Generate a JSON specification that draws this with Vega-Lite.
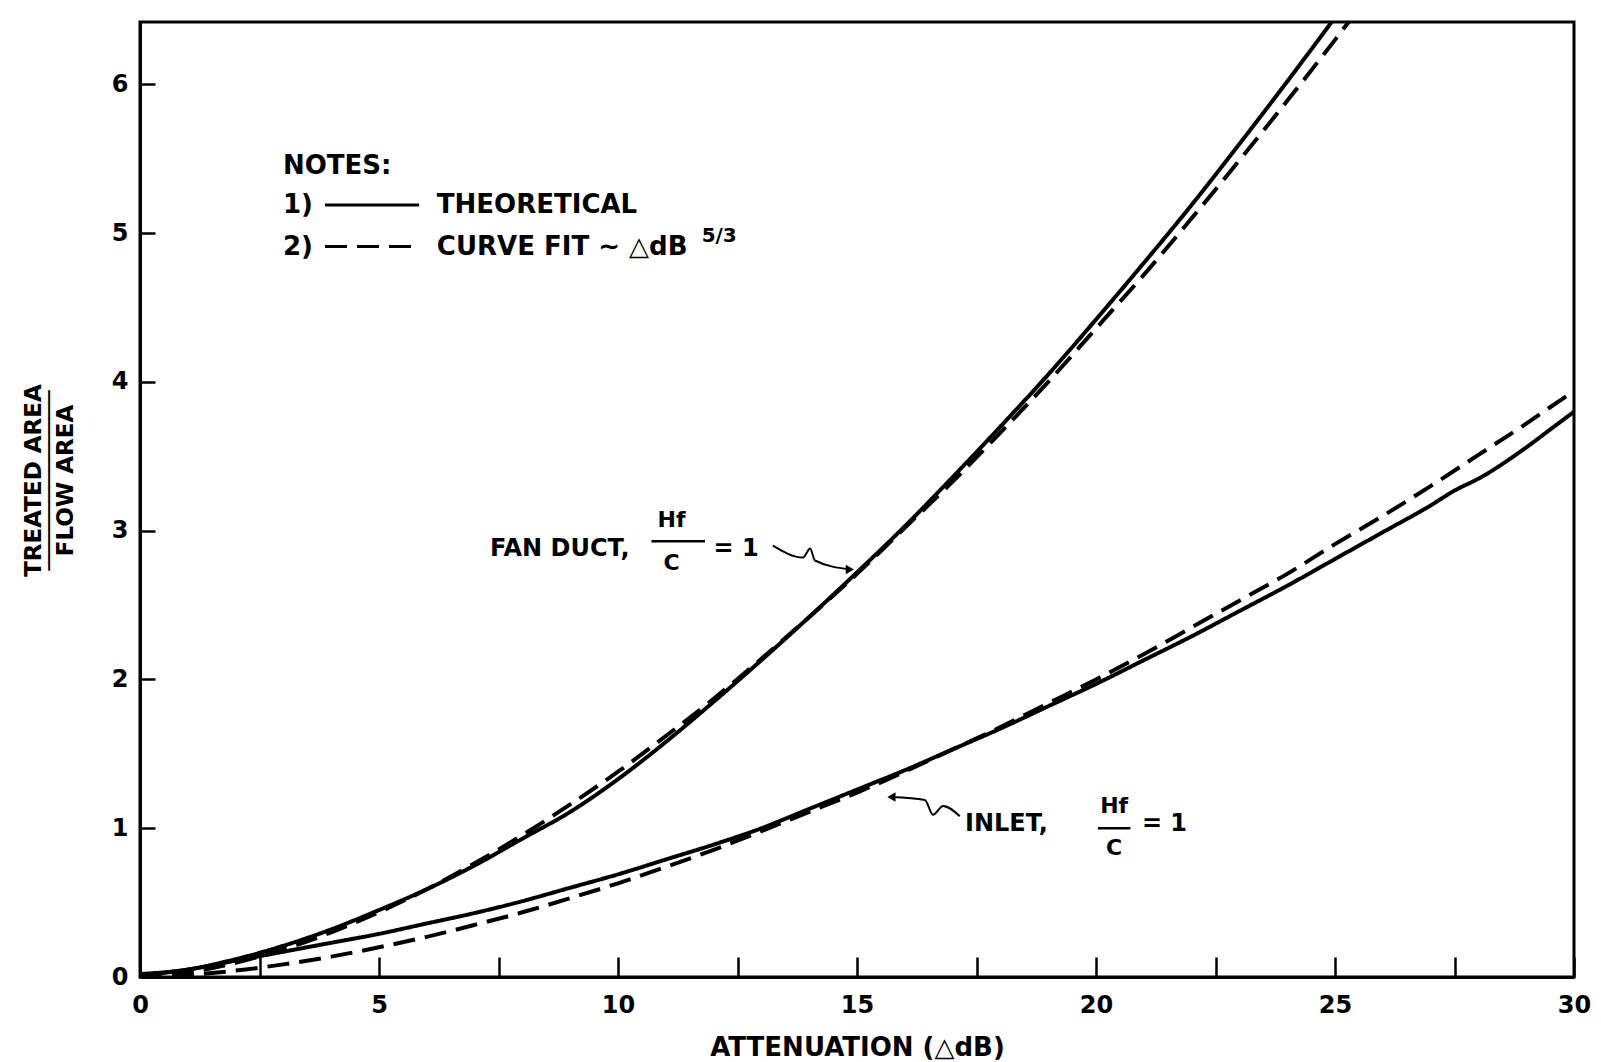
{
  "$schema": "https://vega.github.io/schema/vega-lite/v6.json",
  "width": 1434,
  "height": 955,
  "autosize": {"type": "none"},
  "padding": {"left": 140, "top": 22, "right": 27, "bottom": 85},
  "background": "white",
  "config": {
    "view": {"stroke": "black", "strokeWidth": 3},
    "font": "DejaVu Sans",
    "axis": {
      "domainColor": "black", "domainWidth": 3, "tickColor": "black", "tickWidth": 2.5,
      "grid": false, "labelColor": "black", "titleColor": "black",
      "labelFont": "DejaVu Sans", "titleFont": "DejaVu Sans",
      "labelFontWeight": "bold", "titleFontWeight": "bold",
      "labelOverlap": false, "labelFlush": false
    }
  },
  "datasets": {
    "curves": [
      {"curve": "Fan duct", "kind": "Theoretical", "x": 0, "y": 0.02},
      {"curve": "Fan duct", "kind": "Theoretical", "x": 1, "y": 0.05},
      {"curve": "Fan duct", "kind": "Theoretical", "x": 2, "y": 0.12},
      {"curve": "Fan duct", "kind": "Theoretical", "x": 3, "y": 0.21},
      {"curve": "Fan duct", "kind": "Theoretical", "x": 4, "y": 0.32},
      {"curve": "Fan duct", "kind": "Theoretical", "x": 5, "y": 0.45},
      {"curve": "Fan duct", "kind": "Theoretical", "x": 6, "y": 0.59},
      {"curve": "Fan duct", "kind": "Theoretical", "x": 7, "y": 0.75},
      {"curve": "Fan duct", "kind": "Theoretical", "x": 8, "y": 0.93},
      {"curve": "Fan duct", "kind": "Theoretical", "x": 9, "y": 1.11},
      {"curve": "Fan duct", "kind": "Theoretical", "x": 10, "y": 1.33},
      {"curve": "Fan duct", "kind": "Theoretical", "x": 11, "y": 1.58},
      {"curve": "Fan duct", "kind": "Theoretical", "x": 12, "y": 1.85},
      {"curve": "Fan duct", "kind": "Theoretical", "x": 13, "y": 2.13},
      {"curve": "Fan duct", "kind": "Theoretical", "x": 14, "y": 2.42},
      {"curve": "Fan duct", "kind": "Theoretical", "x": 15, "y": 2.72},
      {"curve": "Fan duct", "kind": "Theoretical", "x": 16, "y": 3.03},
      {"curve": "Fan duct", "kind": "Theoretical", "x": 17, "y": 3.36},
      {"curve": "Fan duct", "kind": "Theoretical", "x": 18, "y": 3.7},
      {"curve": "Fan duct", "kind": "Theoretical", "x": 19, "y": 4.05},
      {"curve": "Fan duct", "kind": "Theoretical", "x": 20, "y": 4.42},
      {"curve": "Fan duct", "kind": "Theoretical", "x": 21, "y": 4.8},
      {"curve": "Fan duct", "kind": "Theoretical", "x": 22, "y": 5.19},
      {"curve": "Fan duct", "kind": "Theoretical", "x": 23, "y": 5.6},
      {"curve": "Fan duct", "kind": "Theoretical", "x": 24, "y": 6.02},
      {"curve": "Fan duct", "kind": "Theoretical", "x": 25, "y": 6.45},
      {"curve": "Fan duct", "kind": "Curve fit", "x": 0, "y": 0},
      {"curve": "Fan duct", "kind": "Curve fit", "x": 1, "y": 0.03},
      {"curve": "Fan duct", "kind": "Curve fit", "x": 2, "y": 0.095},
      {"curve": "Fan duct", "kind": "Curve fit", "x": 3, "y": 0.186},
      {"curve": "Fan duct", "kind": "Curve fit", "x": 4, "y": 0.3},
      {"curve": "Fan duct", "kind": "Curve fit", "x": 5, "y": 0.436},
      {"curve": "Fan duct", "kind": "Curve fit", "x": 6, "y": 0.59},
      {"curve": "Fan duct", "kind": "Curve fit", "x": 7, "y": 0.764},
      {"curve": "Fan duct", "kind": "Curve fit", "x": 8, "y": 0.954},
      {"curve": "Fan duct", "kind": "Curve fit", "x": 9, "y": 1.16},
      {"curve": "Fan duct", "kind": "Curve fit", "x": 10, "y": 1.38},
      {"curve": "Fan duct", "kind": "Curve fit", "x": 11, "y": 1.62},
      {"curve": "Fan duct", "kind": "Curve fit", "x": 12, "y": 1.87},
      {"curve": "Fan duct", "kind": "Curve fit", "x": 13, "y": 2.14},
      {"curve": "Fan duct", "kind": "Curve fit", "x": 14, "y": 2.42},
      {"curve": "Fan duct", "kind": "Curve fit", "x": 15, "y": 2.71},
      {"curve": "Fan duct", "kind": "Curve fit", "x": 16, "y": 3.02},
      {"curve": "Fan duct", "kind": "Curve fit", "x": 17, "y": 3.33},
      {"curve": "Fan duct", "kind": "Curve fit", "x": 18, "y": 3.66},
      {"curve": "Fan duct", "kind": "Curve fit", "x": 19, "y": 4.0},
      {"curve": "Fan duct", "kind": "Curve fit", "x": 20, "y": 4.36},
      {"curve": "Fan duct", "kind": "Curve fit", "x": 21, "y": 4.72},
      {"curve": "Fan duct", "kind": "Curve fit", "x": 22, "y": 5.1},
      {"curve": "Fan duct", "kind": "Curve fit", "x": 23, "y": 5.49},
      {"curve": "Fan duct", "kind": "Curve fit", "x": 24, "y": 5.89},
      {"curve": "Fan duct", "kind": "Curve fit", "x": 25, "y": 6.3},
      {"curve": "Fan duct", "kind": "Curve fit", "x": 25.5, "y": 6.51},
      {"curve": "Inlet", "kind": "Theoretical", "x": 0, "y": 0.01},
      {"curve": "Inlet", "kind": "Theoretical", "x": 1, "y": 0.05},
      {"curve": "Inlet", "kind": "Theoretical", "x": 2, "y": 0.11},
      {"curve": "Inlet", "kind": "Theoretical", "x": 3, "y": 0.17},
      {"curve": "Inlet", "kind": "Theoretical", "x": 4, "y": 0.23},
      {"curve": "Inlet", "kind": "Theoretical", "x": 5, "y": 0.29},
      {"curve": "Inlet", "kind": "Theoretical", "x": 6, "y": 0.36},
      {"curve": "Inlet", "kind": "Theoretical", "x": 7, "y": 0.43},
      {"curve": "Inlet", "kind": "Theoretical", "x": 8, "y": 0.51},
      {"curve": "Inlet", "kind": "Theoretical", "x": 9, "y": 0.6},
      {"curve": "Inlet", "kind": "Theoretical", "x": 10, "y": 0.69},
      {"curve": "Inlet", "kind": "Theoretical", "x": 11, "y": 0.79},
      {"curve": "Inlet", "kind": "Theoretical", "x": 12, "y": 0.89},
      {"curve": "Inlet", "kind": "Theoretical", "x": 13, "y": 1.0},
      {"curve": "Inlet", "kind": "Theoretical", "x": 14, "y": 1.13},
      {"curve": "Inlet", "kind": "Theoretical", "x": 15, "y": 1.26},
      {"curve": "Inlet", "kind": "Theoretical", "x": 16, "y": 1.39},
      {"curve": "Inlet", "kind": "Theoretical", "x": 17, "y": 1.53},
      {"curve": "Inlet", "kind": "Theoretical", "x": 18, "y": 1.67},
      {"curve": "Inlet", "kind": "Theoretical", "x": 19, "y": 1.82},
      {"curve": "Inlet", "kind": "Theoretical", "x": 20, "y": 1.97},
      {"curve": "Inlet", "kind": "Theoretical", "x": 21, "y": 2.13},
      {"curve": "Inlet", "kind": "Theoretical", "x": 22, "y": 2.29},
      {"curve": "Inlet", "kind": "Theoretical", "x": 23, "y": 2.46},
      {"curve": "Inlet", "kind": "Theoretical", "x": 24, "y": 2.63},
      {"curve": "Inlet", "kind": "Theoretical", "x": 25, "y": 2.81},
      {"curve": "Inlet", "kind": "Theoretical", "x": 26, "y": 2.99},
      {"curve": "Inlet", "kind": "Theoretical", "x": 27, "y": 3.17},
      {"curve": "Inlet", "kind": "Theoretical", "x": 27.5, "y": 3.27},
      {"curve": "Inlet", "kind": "Theoretical", "x": 28, "y": 3.35},
      {"curve": "Inlet", "kind": "Theoretical", "x": 29, "y": 3.56},
      {"curve": "Inlet", "kind": "Theoretical", "x": 29.5, "y": 3.68},
      {"curve": "Inlet", "kind": "Theoretical", "x": 30, "y": 3.8},
      {"curve": "Inlet", "kind": "Curve fit", "x": 0, "y": 0},
      {"curve": "Inlet", "kind": "Curve fit", "x": 1, "y": 0.014},
      {"curve": "Inlet", "kind": "Curve fit", "x": 2, "y": 0.043},
      {"curve": "Inlet", "kind": "Curve fit", "x": 3, "y": 0.085},
      {"curve": "Inlet", "kind": "Curve fit", "x": 4, "y": 0.137},
      {"curve": "Inlet", "kind": "Curve fit", "x": 5, "y": 0.2},
      {"curve": "Inlet", "kind": "Curve fit", "x": 6, "y": 0.27},
      {"curve": "Inlet", "kind": "Curve fit", "x": 7, "y": 0.35},
      {"curve": "Inlet", "kind": "Curve fit", "x": 8, "y": 0.435},
      {"curve": "Inlet", "kind": "Curve fit", "x": 9, "y": 0.53},
      {"curve": "Inlet", "kind": "Curve fit", "x": 10, "y": 0.63},
      {"curve": "Inlet", "kind": "Curve fit", "x": 11, "y": 0.74},
      {"curve": "Inlet", "kind": "Curve fit", "x": 12, "y": 0.855},
      {"curve": "Inlet", "kind": "Curve fit", "x": 13, "y": 0.98},
      {"curve": "Inlet", "kind": "Curve fit", "x": 14, "y": 1.11},
      {"curve": "Inlet", "kind": "Curve fit", "x": 15, "y": 1.24},
      {"curve": "Inlet", "kind": "Curve fit", "x": 16, "y": 1.38},
      {"curve": "Inlet", "kind": "Curve fit", "x": 17, "y": 1.53},
      {"curve": "Inlet", "kind": "Curve fit", "x": 18, "y": 1.68},
      {"curve": "Inlet", "kind": "Curve fit", "x": 19, "y": 1.84},
      {"curve": "Inlet", "kind": "Curve fit", "x": 20, "y": 2.0},
      {"curve": "Inlet", "kind": "Curve fit", "x": 21, "y": 2.17},
      {"curve": "Inlet", "kind": "Curve fit", "x": 22, "y": 2.35},
      {"curve": "Inlet", "kind": "Curve fit", "x": 23, "y": 2.53},
      {"curve": "Inlet", "kind": "Curve fit", "x": 24, "y": 2.71},
      {"curve": "Inlet", "kind": "Curve fit", "x": 25, "y": 2.91},
      {"curve": "Inlet", "kind": "Curve fit", "x": 26, "y": 3.1},
      {"curve": "Inlet", "kind": "Curve fit", "x": 27, "y": 3.3},
      {"curve": "Inlet", "kind": "Curve fit", "x": 28, "y": 3.51},
      {"curve": "Inlet", "kind": "Curve fit", "x": 29, "y": 3.72},
      {"curve": "Inlet", "kind": "Curve fit", "x": 29.5, "y": 3.83},
      {"curve": "Inlet", "kind": "Curve fit", "x": 30, "y": 3.94}
    ],
    "keylines": [
      {"kind": "Theoretical", "x": 3.87, "x2": 5.84, "y": 5.19},
      {"kind": "Curve fit", "x": 3.87, "x2": 5.84, "y": 4.91}
    ],
    "bars": [
      {"label": "Fan duct", "x": 10.7, "x2": 11.82, "y": 2.93},
      {"label": "Inlet", "x": 20.04, "x2": 20.72, "y": 1.0}
    ],
    "arrows": [
      {"arrow": "fan", "order": 1, "x": 13.24, "y": 2.9},
      {"arrow": "fan", "order": 2, "x": 13.87, "y": 2.82},
      {"arrow": "fan", "order": 3, "x": 14.02, "y": 2.88},
      {"arrow": "fan", "order": 4, "x": 14.12, "y": 2.8},
      {"arrow": "fan", "order": 5, "x": 14.85, "y": 2.74},
      {"arrow": "inlet", "order": 1, "x": 17.15, "y": 1.08},
      {"arrow": "inlet", "order": 2, "x": 16.8, "y": 1.15},
      {"arrow": "inlet", "order": 3, "x": 16.59, "y": 1.09},
      {"arrow": "inlet", "order": 4, "x": 16.42, "y": 1.19},
      {"arrow": "inlet", "order": 5, "x": 15.72, "y": 1.21}
    ],
    "heads": [
      {"arrow": "fan", "x": 14.85, "y": 2.74},
      {"arrow": "inlet", "x": 15.72, "y": 1.21}
    ],
    "notes": [
      {"t": "NOTES:", "x": 2.99, "y": 5.45},
      {"t": "1)", "x": 2.99, "y": 5.19},
      {"t": "THEORETICAL", "x": 6.21, "y": 5.19},
      {"t": "2)", "x": 2.99, "y": 4.91},
      {"t": "CURVE FIT ∼ △dB", "x": 6.21, "y": 4.91}
    ],
    "textLeft": [
      {"t": "FAN DUCT,", "x": 7.32, "y": 2.88},
      {"t": "= 1", "x": 12.0, "y": 2.88},
      {"t": "INLET,", "x": 17.26, "y": 1.03},
      {"t": "= 1", "x": 20.96, "y": 1.03}
    ],
    "textCenter": [
      {"t": "Hf", "x": 11.12, "y": 3.07},
      {"t": "C", "x": 11.12, "y": 2.78},
      {"t": "Hf", "x": 20.38, "y": 1.15},
      {"t": "C", "x": 20.38, "y": 0.87}
    ],
    "textSmall": [
      {"t": "5/3", "x": 11.75, "y": 4.98}
    ]
  },
  "layer": [
    {
      "data": {"name": "curves"},
      "mark": {"type": "line", "clip": true, "strokeWidth": 4, "color": "black", "interpolate": "monotone"},
      "encoding": {
        "x": {"field": "x", "type": "quantitative", "scale": {"domain": [0, 30], "nice": false},
          "axis": {"values": [0, 2.5, 5, 7.5, 10, 12.5, 15, 17.5, 20, 22.5, 25, 27.5, 30],
            "labelExpr": "datum.value % 5 === 0 ? datum.label : ''",
            "tickSize": -20, "labelPadding": 36, "labelFontSize": 24,
            "title": "ATTENUATION  (△dB)", "titleFontSize": 26, "titleY": 70, "titleBaseline": "middle"}},
        "y": {"field": "y", "type": "quantitative", "scale": {"domain": [0, 6.42], "nice": false},
          "axis": {"values": [0, 1, 2, 3, 4, 5, 6], "format": "d", "tickSize": -15, "labelPadding": 27, "labelFontSize": 24,
            "labelBaseline": "middle",
            "title": ["TREATED AREA", "─────────────", "FLOW AREA"], "titleFontSize": 23, "titleLineHeight": 16,
            "titleX": -107, "titleY": 458, "titleBaseline": "middle", "titleAlign": "center", "titleAngle": -90}},
        "detail": {"field": "curve"},
        "strokeDash": {"field": "kind", "type": "nominal",
          "scale": {"domain": ["Theoretical", "Curve fit"], "range": [[1, 0], [22, 10]]}, "legend": null}
      }
    },
    {
      "data": {"name": "keylines"},
      "mark": {"type": "rule", "strokeWidth": 3, "color": "black"},
      "encoding": {
        "x": {"field": "x", "type": "quantitative"},
        "x2": {"field": "x2"},
        "y": {"field": "y", "type": "quantitative"},
        "strokeDash": {"field": "kind", "type": "nominal", "legend": null}
      }
    },
    {
      "data": {"name": "bars"},
      "mark": {"type": "rule", "strokeWidth": 2.5, "color": "black"},
      "encoding": {
        "x": {"field": "x", "type": "quantitative"},
        "x2": {"field": "x2"},
        "y": {"field": "y", "type": "quantitative"}
      }
    },
    {
      "data": {"name": "arrows"},
      "mark": {"type": "line", "strokeWidth": 2, "color": "black", "interpolate": "monotone"},
      "encoding": {
        "x": {"field": "x", "type": "quantitative"},
        "y": {"field": "y", "type": "quantitative"},
        "detail": {"field": "arrow"},
        "order": {"field": "order"}
      }
    },
    {
      "data": {"name": "heads"},
      "mark": {"type": "point", "filled": true, "color": "black", "size": 90, "opacity": 1},
      "encoding": {
        "x": {"field": "x", "type": "quantitative"},
        "y": {"field": "y", "type": "quantitative"},
        "shape": {"field": "arrow", "type": "nominal", "scale": {"domain": ["fan", "inlet"], "range": ["triangle-right", "triangle-left"]}, "legend": null}
      }
    },
    {
      "data": {"name": "notes"},
      "mark": {"type": "text", "align": "left", "baseline": "middle", "fontSize": 26, "fontWeight": "bold", "font": "DejaVu Sans", "color": "black"},
      "encoding": {
        "x": {"field": "x", "type": "quantitative"},
        "y": {"field": "y", "type": "quantitative"},
        "text": {"field": "t"}
      }
    },
    {
      "data": {"name": "textLeft"},
      "mark": {"type": "text", "align": "left", "baseline": "middle", "fontSize": 24, "fontWeight": "bold", "font": "DejaVu Sans", "color": "black"},
      "encoding": {
        "x": {"field": "x", "type": "quantitative"},
        "y": {"field": "y", "type": "quantitative"},
        "text": {"field": "t"}
      }
    },
    {
      "data": {"name": "textCenter"},
      "mark": {"type": "text", "align": "center", "baseline": "middle", "fontSize": 22, "fontWeight": "bold", "font": "DejaVu Sans", "color": "black"},
      "encoding": {
        "x": {"field": "x", "type": "quantitative"},
        "y": {"field": "y", "type": "quantitative"},
        "text": {"field": "t"}
      }
    },
    {
      "data": {"name": "textSmall"},
      "mark": {"type": "text", "align": "left", "baseline": "middle", "fontSize": 20, "fontWeight": "bold", "font": "DejaVu Sans", "color": "black"},
      "encoding": {
        "x": {"field": "x", "type": "quantitative"},
        "y": {"field": "y", "type": "quantitative"},
        "text": {"field": "t"}
      }
    }
  ]
}
